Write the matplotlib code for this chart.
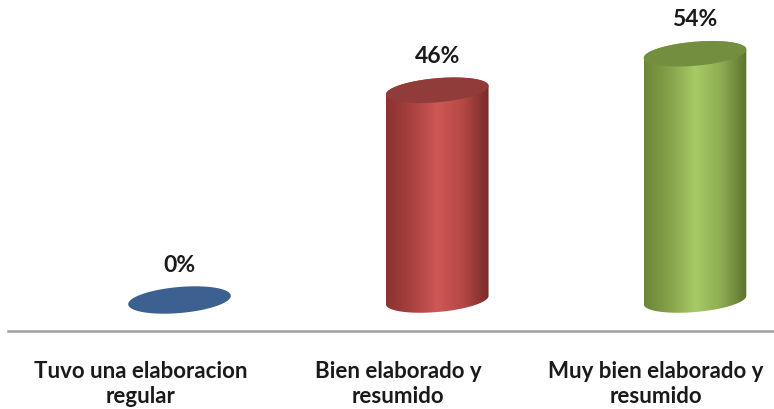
import numpy as np
import matplotlib
matplotlib.use("Agg")
import matplotlib.pyplot as plt
from matplotlib.colors import LinearSegmentedColormap
from matplotlib.patches import Polygon

plt.rcParams['font.family'] = ['Lato', 'DejaVu Sans']

categories = ["Tuvo una elaboracion\nregular", "Bien elaborado y\nresumido",
              "Muy bien elaborado y\nresumido"]
values = [0, 46, 54]
labels = ["0%", "46%", "54%"]

# body gradients (left -> right) and top colours
body_colors = [
    ["#2f507d", "#3d6394", "#2a4670"],
    ["#8a3331", "#a8413f", "#cf5855", "#b54845", "#782b29"],
    ["#6c8638", "#86a24a", "#a7ca66", "#8fac52", "#5c722e"],
]
top_colors = ["#3c6191", "#8f3c3a", "#748e40"]

# pixel scale of the chart area
px_per_cat = 257.75
px_per_pct = 4.56
kx = 1.0 / px_per_cat
ky = 1.0 / px_per_pct
a_px, b_px, tilt = 51.5, 12.0, np.deg2rad(5)


def ellipse_pts(cx, cy, t, b=b_px):
    dx = a_px * np.cos(t) * np.cos(tilt) - b * np.sin(t) * np.sin(tilt)
    dy = a_px * np.cos(t) * np.sin(tilt) + b * np.sin(t) * np.cos(tilt)
    return np.column_stack([cx + dx * kx, cy + dy * ky])


fig = plt.figure(figsize=(7.74, 4.09), dpi=100)
ax = fig.add_axes([0, 0, 1, 1])
ax.axis("off")

for i, v in enumerate(values):
    if v > 0:
        lower = ellipse_pts(i, 0, np.linspace(np.pi, 2 * np.pi, 80))
        upper = ellipse_pts(i, v, np.linspace(0, np.pi, 80))
        body = np.vstack([lower, upper])
        poly = Polygon(body, closed=True, facecolor="none", edgecolor="none")
        ax.add_patch(poly)
        cmap = LinearSegmentedColormap.from_list("c%d" % i, body_colors[i])
        grad = np.linspace(0, 1, 256).reshape(1, -1)
        x0, x1 = body[:, 0].min(), body[:, 0].max()
        y0, y1 = body[:, 1].min(), body[:, 1].max()
        im = ax.imshow(grad, cmap=cmap, extent=[x0, x1, y0, y1],
                       aspect="auto", interpolation="bilinear", zorder=2)
        im.set_clip_path(poly)
        top = ellipse_pts(i, v, np.linspace(0, 2 * np.pi, 160))
        ax.add_patch(Polygon(top, closed=True, facecolor=top_colors[i],
                             edgecolor="none", zorder=3))
    else:
        flat = ellipse_pts(i, v, np.linspace(0, 2 * np.pi, 160), b=13)
        ax.add_patch(Polygon(flat, closed=True, facecolor=top_colors[i],
                             edgecolor="none", zorder=3))

    ax.annotate(labels[i], xy=(i, v), xytext=(0, 34), textcoords="offset pixels",
                ha="center", va="center", fontsize=16.5, fontweight="bold",
                color="#1a1a1a")
    ax.annotate(categories[i], xy=(i, 0), xytext=(-39, -84),
                textcoords="offset pixels", ha="center", va="center",
                multialignment="center", fontsize=16, fontweight="bold",
                color="#1a1a1a", linespacing=1.25)

ax.axhline(-31 * ky, xmin=8 / 774, xmax=1, color="#a0a0a0", lw=1.8, zorder=1)

ax.set_xlim(-179.5 * kx, 594.5 * kx)
ax.set_ylim(-109 * ky, 300 * ky)

fig.savefig("out.png", dpi=100)
